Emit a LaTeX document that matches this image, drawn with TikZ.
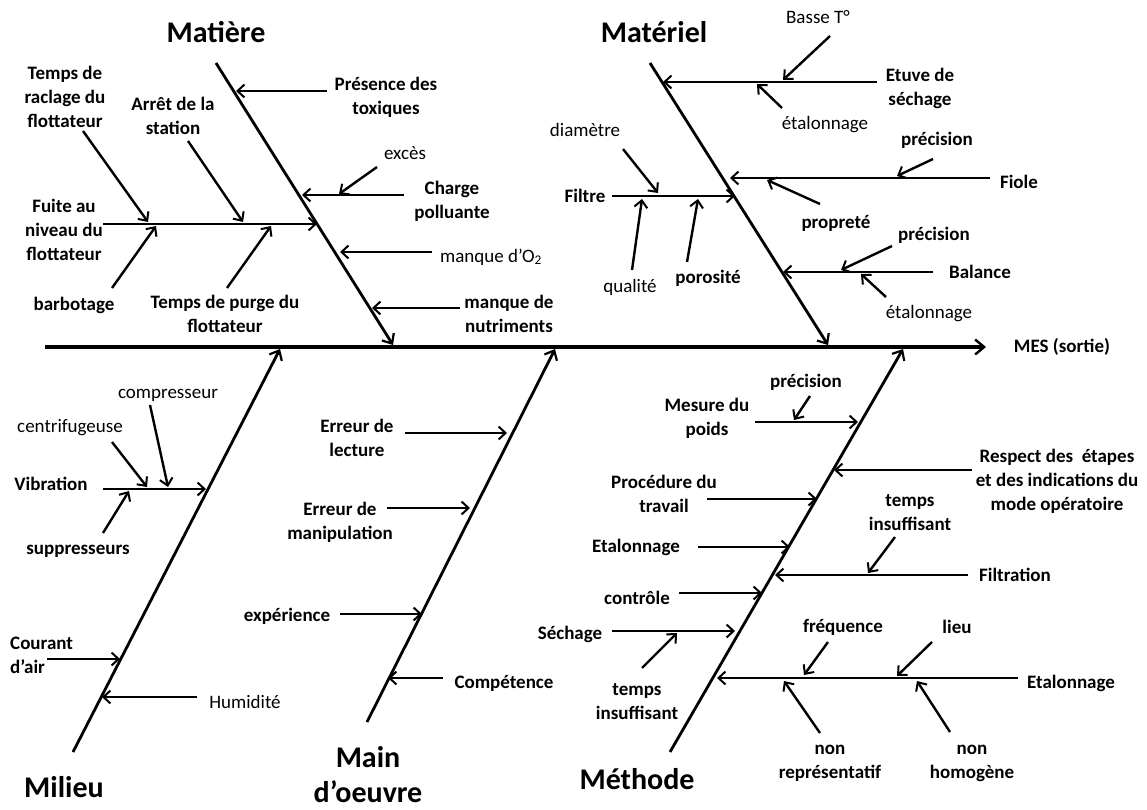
\documentclass[tikz,border=0pt]{standalone}
\usepackage{fontspec}
\setmainfont{Carlito}
\usetikzlibrary{arrows.meta}
\begin{document}
\begin{tikzpicture}[x=1pt,y=-1pt,
  spine/.style={line width=3.2pt,-{Straight Barb[length=9pt,width=15pt,line width=2.4pt]}},
  bone/.style={line width=2.8pt,-{Straight Barb[length=8pt,width=14pt,line width=2.2pt]}},
  arr/.style={line width=2.4pt,-{Straight Barb[length=7pt,width=13pt,line width=2pt]}},
  lb/.style={font=\fontsize{19}{24}\selectfont\bfseries,align=center,inner sep=0pt},
  lr/.style={font=\fontsize{19}{24}\selectfont,align=center,inner sep=0pt},
  ttl/.style={font=\fontsize{30}{35}\selectfont\bfseries,align=center,inner sep=0pt}]
\useasboundingbox (0,0) rectangle (1147,810);
% ---------- spine ----------
\coordinate (s0) at (45,347); \coordinate (s1) at (986,347);
\node[lb] (mes) at (1062,347) {MES (sortie)};
\draw[spine] (s0) -- (s1);
% ---------- bones ----------
\coordinate (mA0) at (216,63);  \coordinate (mA1) at (393,345);
\coordinate (mB0) at (650,63);  \coordinate (mB1) at (828,345);
\coordinate (mC0) at (73,752);  \coordinate (mC1) at (280,349);
\coordinate (mD0) at (367,722); \coordinate (mD1) at (555,349);
\coordinate (mE0) at (670,752); \coordinate (mE1) at (903,349);
\draw[bone] (mA0) -- (mA1);
\draw[bone] (mB0) -- (mB1);
\draw[bone] (mC0) -- (mC1);
\draw[bone] (mD0) -- (mD1);
\draw[bone] (mE0) -- (mE1);
\node[ttl] (tA) at (216,32) {Matière};
\node[ttl] (tB) at (654,32) {Matériel};
\node[ttl] (tC) at (64,787) {Milieu};
\node[ttl] (tD) at (368,775) {Main\\d’oeuvre};
\node[ttl] (tE) at (637,779) {Méthode};
% ---------- Matière ----------
\node[lb] (pres) at (386,97) {Présence des\\toxiques};
\coordinate (a1) at (327,91); \coordinate (b1) at (236,91);
\draw[arr] (a1) -- (b1);
\node[lr] (exc) at (405,153) {excès};
\coordinate (a2) at (377,167); \coordinate (b2) at (339,194);
\draw[arr] (a2) -- (b2);
\node[lb] (charge) at (452,201) {Charge\\polluante};
\coordinate (a3) at (404,195); \coordinate (b3) at (302,195);
\draw[arr] (a3) -- (b3);
\node[lr] (o2) at (491,257) {manque d’O\textsubscript{2}};
\coordinate (a4) at (432,252); \coordinate (b4) at (340,252);
\draw[arr] (a4) -- (b4);
\node[lb] (nutr) at (509,314) {manque de\\nutriments};
\coordinate (a5) at (460,308); \coordinate (b5) at (372,308);
\draw[arr] (a5) -- (b5);
\node[lb] (fuite) at (64,230) {Fuite au\\niveau du\\flottateur};
\coordinate (a6) at (103,224); \coordinate (b6) at (317,224);
\draw[arr] (a6) -- (b6);
\node[lb] (racl) at (65,97) {Temps de\\raclage du\\flottateur};
\coordinate (a7) at (83,131); \coordinate (b7) at (148,222);
\draw[arr] (a7) -- (b7);
\node[lb] (arret) at (173,116) {Arrêt de la\\station};
\coordinate (a8) at (188,141); \coordinate (b8) at (243,222);
\draw[arr] (a8) -- (b8);
\node[lb] (barb) at (74,305) {barbotage};
\coordinate (a9) at (112,288); \coordinate (b9) at (156,226);
\draw[arr] (a9) -- (b9);
\node[lb] (purge) at (225,314) {Temps de purge du\\flottateur};
\coordinate (a10) at (227,288); \coordinate (b10) at (271,226);
\draw[arr] (a10) -- (b10);
% ---------- Matériel ----------
\node[lb] (etuve) at (920,88) {Etuve de\\séchage};
\coordinate (a11) at (877,82); \coordinate (b11) at (663,82);
\draw[arr] (a11) -- (b11);
\node[lr] (basse) at (818,17) {Basse T°};
\coordinate (a12) at (830,36); \coordinate (b12) at (783,80);
\draw[arr] (a12) -- (b12);
\node[lr] (etal1) at (825,125) {étalonnage};
\coordinate (a13) at (782,108); \coordinate (b13) at (757,84);
\draw[arr] (a13) -- (b13);
\node[lb] (fiole) at (1019,182) {Fiole};
\coordinate (a14) at (990,178); \coordinate (b14) at (730,178);
\draw[arr] (a14) -- (b14);
\node[lb] (prec1) at (937,140) {précision};
\coordinate (a15) at (933,159); \coordinate (b15) at (897,176);
\draw[arr] (a15) -- (b15);
\node[lb] (propr) at (836,223) {propreté};
\coordinate (a16) at (820,204); \coordinate (b16) at (767,180);
\draw[arr] (a16) -- (b16);
\node[lb] (bal) at (980,272) {Balance};
\coordinate (a17) at (933,272); \coordinate (b17) at (783,272);
\draw[arr] (a17) -- (b17);
\node[lb] (prec2) at (934,235) {précision};
\coordinate (a18) at (892,246); \coordinate (b18) at (841,270);
\draw[arr] (a18) -- (b18);
\node[lr] (etal2) at (929,314) {étalonnage};
\coordinate (a19) at (886,297); \coordinate (b19) at (861,274);
\draw[arr] (a19) -- (b19);
\node[lb] (filtre) at (585,196) {Filtre};
\coordinate (a20) at (612,196); \coordinate (b20) at (735,196);
\draw[arr] (a20) -- (b20);
\node[lr] (diam) at (585,130) {diamètre};
\coordinate (a21) at (623,149); \coordinate (b21) at (658,193);
\draw[arr] (a21) -- (b21);
\node[lr] (qual) at (630,287) {qualité};
\coordinate (a22) at (632,270); \coordinate (b22) at (642,199);
\draw[arr] (a22) -- (b22);
\node[lb] (poro) at (708,278) {porosité};
\coordinate (a23) at (687,262); \coordinate (b23) at (698,199);
\draw[arr] (a23) -- (b23);
% ---------- Milieu ----------
\node[lb] (vib) at (51,484) {Vibration};
\coordinate (a24) at (103,489); \coordinate (b24) at (206,489);
\draw[arr] (a24) -- (b24);
\node[lr] (centr) at (70,428) {centrifugeuse};
\coordinate (a25) at (112,442); \coordinate (b25) at (147,487);
\draw[arr] (a25) -- (b25);
\node[lr] (compr) at (168,395) {compresseur};
\coordinate (a26) at (150,405); \coordinate (b26) at (168,487);
\draw[arr] (a26) -- (b26);
\node[lb] (suppr) at (78,551) {suppresseurs};
\coordinate (a27) at (103,533); \coordinate (b27) at (129,491);
\draw[arr] (a27) -- (b27);
\node[lb,anchor=west,align=left] (cour) at (10,655) {Courant\\d’air};
\coordinate (a28) at (47,659); \coordinate (b28) at (120,659);
\draw[arr] (a28) -- (b28);
\node[lr] (humi) at (245,702) {Humidité};
\coordinate (a29) at (197,697); \coordinate (b29) at (102,697);
\draw[arr] (a29) -- (b29);
% ---------- Main d'oeuvre ----------
\node[lb] (lect) at (357,438) {Erreur de\\lecture};
\coordinate (a30) at (405,433); \coordinate (b30) at (507,433);
\draw[arr] (a30) -- (b30);
\node[lb] (manip) at (340,522) {Erreur de\\manipulation};
\coordinate (a31) at (387,508); \coordinate (b31) at (470,508);
\draw[arr] (a31) -- (b31);
\node[lb] (exper) at (287,616) {expérience};
\coordinate (a32) at (340,614); \coordinate (b32) at (422,614);
\draw[arr] (a32) -- (b32);
\node[lb] (comp) at (504,683) {Compétence};
\coordinate (a33) at (443,678); \coordinate (b33) at (388,678);
\draw[arr] (a33) -- (b33);
% ---------- Méthode ----------
\node[lb] (mesure) at (707,418) {Mesure du\\poids};
\coordinate (a34) at (755,422); \coordinate (b34) at (858,422);
\draw[arr] (a34) -- (b34);
\node[lb] (prec3) at (806,382) {précision};
\coordinate (a35) at (810,396); \coordinate (b35) at (794,420);
\draw[arr] (a35) -- (b35);
\node[lb] (resp) at (1057,481) {Respect des~~étapes\\et des indications du\\mode opératoire};
\coordinate (a36) at (972,470); \coordinate (b36) at (834,470);
\draw[arr] (a36) -- (b36);
\node[lb] (proc) at (664,494) {Procédure du\\travail};
\coordinate (a37) at (707,499); \coordinate (b37) at (817,499);
\draw[arr] (a37) -- (b37);
\node[lb] (etal3) at (636,547) {Etalonnage};
\coordinate (a38) at (698,547); \coordinate (b38) at (790,547);
\draw[arr] (a38) -- (b38);
\node[lb] (filtr) at (1015,575) {Filtration};
\coordinate (a39) at (968,575); \coordinate (b39) at (775,575);
\draw[arr] (a39) -- (b39);
\node[lb] (tins1) at (910,513) {temps\\insuffisant};
\coordinate (a40) at (895,537); \coordinate (b40) at (868,573);
\draw[arr] (a40) -- (b40);
\node[lb] (ctrl) at (637,598) {contrôle};
\coordinate (a41) at (679,593); \coordinate (b41) at (762,593);
\draw[arr] (a41) -- (b41);
\node[lb] (sech) at (570,634) {Séchage};
\coordinate (a42) at (612,631); \coordinate (b42) at (735,631);
\draw[arr] (a42) -- (b42);
\node[lb] (tins2) at (637,702) {temps\\insuffisant};
\coordinate (a43) at (642,668); \coordinate (b43) at (677,633);
\draw[arr] (a43) -- (b43);
\node[lb] (etal4) at (1071,683) {Etalonnage};
\coordinate (a44) at (1018,678); \coordinate (b44) at (717,678);
\draw[arr] (a44) -- (b44);
\node[lb] (freq) at (843,627) {fréquence};
\coordinate (a45) at (828,642); \coordinate (b45) at (804,675);
\draw[arr] (a45) -- (b45);
\node[lb] (lieu) at (957,627) {lieu};
\coordinate (a46) at (932,642); \coordinate (b46) at (897,676);
\draw[arr] (a46) -- (b46);
\node[lb] (nrep) at (830,763) {non\\représentatif};
\coordinate (a47) at (820,733); \coordinate (b47) at (784,681);
\draw[arr] (a47) -- (b47);
\node[lb] (nhom) at (972,763) {non\\homogène};
\coordinate (a48) at (950,732); \coordinate (b48) at (917,681);
\draw[arr] (a48) -- (b48);
\end{tikzpicture}
\end{document}
